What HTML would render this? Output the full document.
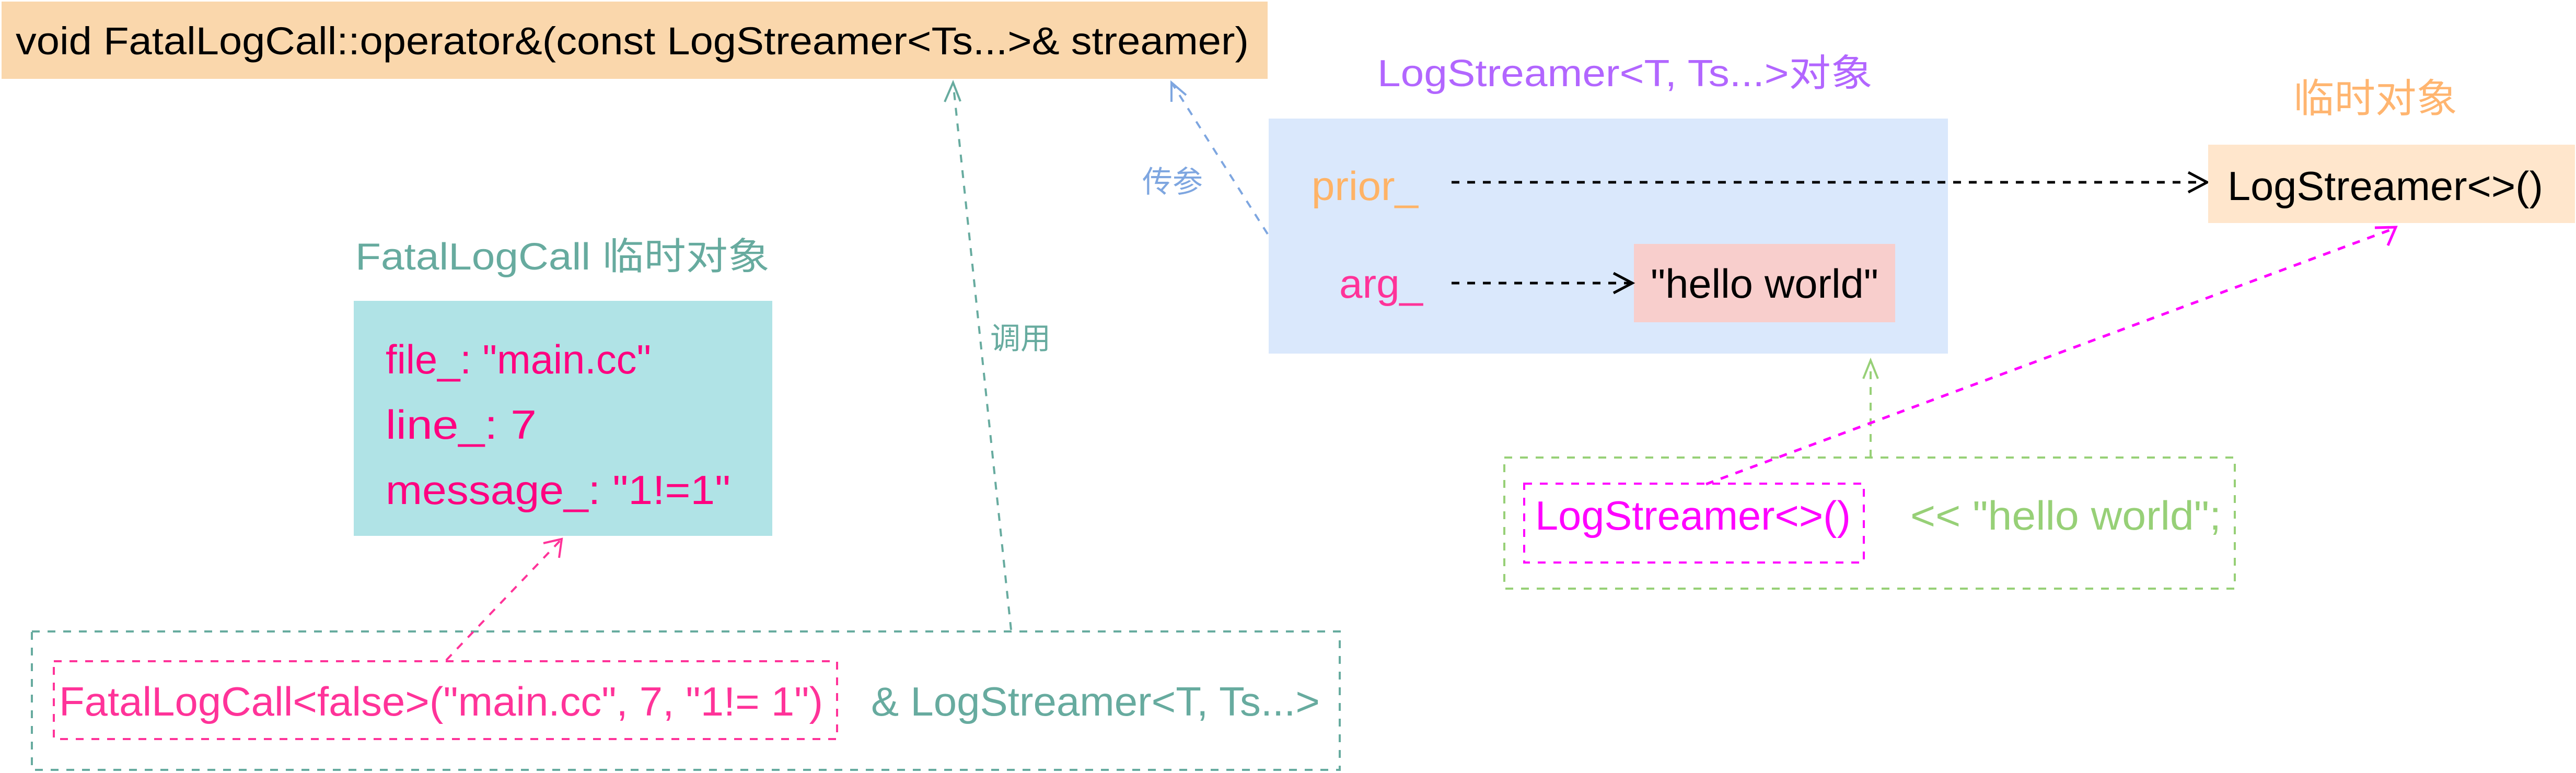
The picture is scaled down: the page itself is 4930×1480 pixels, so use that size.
<!DOCTYPE html>
<html><head><meta charset="utf-8"><style>html,body{margin:0;padding:0;background:#fff}svg{display:block}text{font-family:"Liberation Sans","Noto Sans CJK SC",sans-serif}</style></head>
<body>
<svg width="4930" height="1480" viewBox="0 0 4930 1480" xmlns="http://www.w3.org/2000/svg">
<!-- top box -->
<rect x="3" y="3" width="2423" height="148" fill="#FAD7AC"/>
<text x="30" y="104" font-size="74" fill="#000" textLength="2360" lengthAdjust="spacingAndGlyphs">void FatalLogCall::operator&amp;(const LogStreamer&lt;Ts...&gt;&amp; streamer)</text>

<!-- FatalLogCall title -->
<text x="680" y="516" font-size="72" fill="#67AB9F" textLength="793" lengthAdjust="spacingAndGlyphs">FatalLogCall 临时对象</text>
<rect x="677" y="576" width="801" height="450" fill="#B0E3E6"/>
<text x="738" y="715" font-size="78" fill="#FF0080" textLength="508" lengthAdjust="spacingAndGlyphs">file_:  "main.cc"</text>
<text x="738" y="840" font-size="78" fill="#FF0080" textLength="289" lengthAdjust="spacingAndGlyphs">line_:  7</text>
<text x="738" y="965" font-size="78" fill="#FF0080" textLength="660" lengthAdjust="spacingAndGlyphs">message_:  "1!=1"</text>

<!-- bottom left boxes -->
<rect x="61" y="1209" width="2503" height="265" fill="none" stroke="#67AB9F" stroke-width="4" stroke-dasharray="15 15"/>
<rect x="103" y="1266" width="1499" height="149" fill="none" stroke="#FF3399" stroke-width="4" stroke-dasharray="15 15"/>
<text x="113" y="1370" font-size="78" fill="#FF3399" textLength="1462" lengthAdjust="spacingAndGlyphs">FatalLogCall&lt;false&gt;("main.cc", 7, "1!= 1")</text>
<text x="1667" y="1370" font-size="78" fill="#67AB9F" textLength="859" lengthAdjust="spacingAndGlyphs">&amp; LogStreamer&lt;T, Ts...&gt;</text>

<!-- pink arrow -->
<line x1="854" y1="1264" x2="1075" y2="1032" stroke="#FF3399" stroke-width="4" stroke-dasharray="15 15"/>
<polyline points="1040,1040 1075,1032 1070,1068" fill="none" stroke="#FF3399" stroke-width="4"/>

<!-- green 调用 arrow -->
<line x1="1935" y1="1206" x2="1824" y2="158" stroke="#67AB9F" stroke-width="4" stroke-dasharray="15 15"/>
<polyline points="1808,195 1824,158 1838,194" fill="none" stroke="#67AB9F" stroke-width="4"/>
<text x="1895" y="668" font-size="58" fill="#67AB9F">调用</text>

<!-- blue 传参 arrow -->
<line x1="2426" y1="448" x2="2242" y2="158" stroke="#7EA6E0" stroke-width="4" stroke-dasharray="15 15"/>
<polyline points="2242,195 2242,158 2270,182" fill="none" stroke="#7EA6E0" stroke-width="4"/>
<text x="2186" y="368" font-size="58" fill="#7EA6E0">传参</text>

<!-- LogStreamer object -->
<text x="2636" y="165" font-size="72" fill="#B266FF" textLength="948" lengthAdjust="spacingAndGlyphs">LogStreamer&lt;T, Ts...&gt;对象</text>
<rect x="2428" y="227" width="1300" height="450" fill="#DAE8FC"/>
<text x="2510" y="383" font-size="78" fill="#FFB366" textLength="204" lengthAdjust="spacingAndGlyphs">prior_</text>
<text x="2563" y="570" font-size="78" fill="#FF3399" textLength="160" lengthAdjust="spacingAndGlyphs">arg_</text>
<rect x="3127" y="467" width="500" height="150" fill="#F8CECC"/>
<text x="3159" y="570" font-size="78" fill="#000" textLength="436" lengthAdjust="spacingAndGlyphs">"hello world"</text>

<line x1="2778" y1="349" x2="4222" y2="349" stroke="#000" stroke-width="5" stroke-dasharray="15 15"/>
<polyline points="4188,330 4224,349 4188,368" fill="none" stroke="#000" stroke-width="5"/>
<line x1="2778" y1="542" x2="3122" y2="542" stroke="#000" stroke-width="5" stroke-dasharray="15 15"/>
<polyline points="3088,523 3124,542 3088,561" fill="none" stroke="#000" stroke-width="5"/>

<!-- 临时对象 -->
<text x="4389" y="215" font-size="76" fill="#FFB570" textLength="314" lengthAdjust="spacingAndGlyphs">临时对象</text>
<rect x="4226" y="277" width="702" height="150" fill="#FFE6CC"/>
<text x="4263" y="383" font-size="78" fill="#000" textLength="604" lengthAdjust="spacingAndGlyphs">LogStreamer&lt;&gt;()</text>

<!-- bottom right -->
<rect x="2879" y="876" width="1398" height="251" fill="none" stroke="#97D077" stroke-width="4" stroke-dasharray="15 15"/>
<rect x="2917" y="926" width="650" height="151" fill="none" stroke="#FF00FF" stroke-width="4" stroke-dasharray="15 15"/>
<text x="2938" y="1014" font-size="78" fill="#FF00FF" textLength="604" lengthAdjust="spacingAndGlyphs">LogStreamer&lt;&gt;()</text>
<text x="3656" y="1014" font-size="78" fill="#97D077" textLength="595" lengthAdjust="spacingAndGlyphs">&lt;&lt;  "hello world";</text>

<line x1="3580" y1="876" x2="3580" y2="692" stroke="#97D077" stroke-width="4" stroke-dasharray="15 15"/>
<polyline points="3566,725 3580,690 3594,725" fill="none" stroke="#97D077" stroke-width="4"/>

<line x1="3265" y1="927" x2="4583" y2="437" stroke="#FF00FF" stroke-width="5" stroke-dasharray="15 15"/>
<polyline points="4545,436 4585,435 4570,470" fill="none" stroke="#FF00FF" stroke-width="5"/>
</svg>
</body></html>
